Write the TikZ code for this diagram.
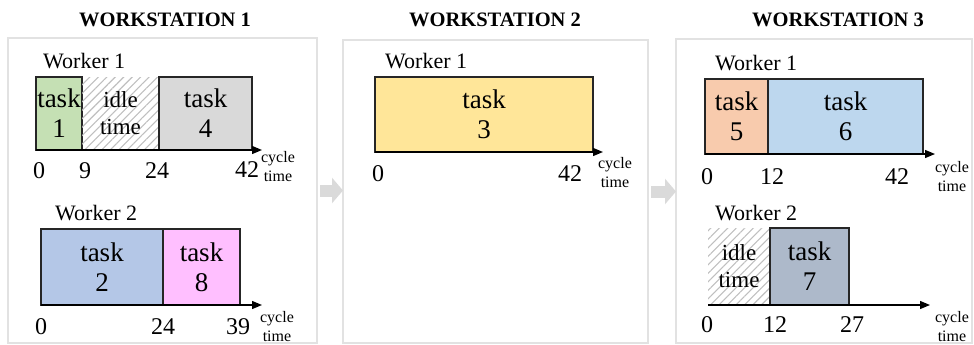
\documentclass[tikz,border=0pt]{standalone}
\usepackage{fontspec}
\setmainfont{LiberationSerif}[Extension=.ttf, UprightFont=*-Regular, BoldFont=*-Bold, ItalicFont=*-Italic, BoldItalicFont=*-BoldItalic]
\usepackage{xcolor}
\usepackage{tikz}
\usetikzlibrary{arrows.meta,patterns.meta}
\definecolor{tgreen}{RGB}{197,224,180}
\definecolor{tgray}{RGB}{217,217,217}
\definecolor{tblue}{RGB}{180,199,231}
\definecolor{tpink}{RGB}{255,191,255}
\definecolor{tyellow}{RGB}{255,230,153}
\definecolor{torange}{RGB}{248,203,173}
\definecolor{tsky}{RGB}{189,215,238}
\definecolor{tslate}{RGB}{173,185,202}
\definecolor{panelgray}{RGB}{226,226,226}
\definecolor{flowgray}{RGB}{218,218,218}

\begin{document}
\begin{tikzpicture}[x=1pt, y=-1pt,
    panel/.style={draw=panelgray, line width=1.5pt, anchor=north west, inner sep=0pt, outer sep=0pt},
    title/.style={font=\fontsize{20.5}{24}\selectfont\bfseries},
    worker/.style={anchor=west, inner sep=0pt, font=\fontsize{22}{26}\selectfont},
    bar/.style={draw=black!85, line width=1.2pt, anchor=south west, inner sep=0pt, outer sep=0pt, align=center, font=\fontsize{27}{30}\selectfont},
    idle/.style={pattern={Lines[angle=45,distance=6pt,line width=1.1pt]}, pattern color=gray!50, anchor=south west, inner sep=0pt, outer sep=0pt, align=center, font=\fontsize{23}{27}\selectfont},
    tick/.style={inner sep=0pt, font=\fontsize{24}{28}\selectfont},
    cyc/.style={inner sep=0pt, align=center, font=\fontsize{16}{19}\selectfont},
    axis/.style={line width=1.3pt, -{Triangle[length=10pt,width=8pt]}},
    flow/.style={draw=flowgray, line width=12pt, -{Triangle[length=11pt,width=25pt]}},
]
    \useasboundingbox (0,0) rectangle (974,345);

    \node[panel, minimum width=309pt, minimum height=305pt] (ws1) at (8,38) {};
    \node[panel, minimum width=305pt, minimum height=303pt] (ws2) at (343,40) {};
    \node[panel, minimum width=296pt, minimum height=304pt] (ws3) at (676,39) {};

    \node[title] (ttl1) at (165,20) {WORKSTATION 1};
    \node[title] (ttl2) at (495,20) {WORKSTATION 2};
    \node[title] (ttl3) at (838,20) {WORKSTATION 3};

    \draw[flow] ([xshift=3pt]ws1.east) -- (ws1.east -| ws2.west);
    \draw[flow] ([xshift=3pt]ws2.east) -- (ws2.east -| ws3.west);

    % workstation 1, worker 1
    \node[worker] (w11) at (43,61) {Worker 1};
    \node[bar, fill=tgreen, minimum width=46pt, minimum height=73pt] (task1) at (36,150) {task\\1};
    \node[idle, minimum width=77pt, minimum height=73pt] (idle1) at (task1.south east) {idle\\time};
    \node[bar, fill=tgray, minimum width=93pt, minimum height=73pt] (task4) at (idle1.south east) {task\\4};
    \coordinate (ax11) at (262,150);
    \draw[axis] (task1.south west) -- (ax11);
    \node[tick] (n110) at (39,171) {0};
    \node[tick] (n119) at (85,171) {9};
    \node[tick] (n1124) at (157,171) {24};
    \node[tick] (n1142) at (247,170) {42};
    \node[cyc] (c11) at (278,167) {cycle\\time};

    % workstation 1, worker 2
    \node[worker] (w12) at (55,213) {Worker 2};
    \node[bar, fill=tblue, minimum width=122pt, minimum height=76pt] (task2) at (41,305) {task\\2};
    \node[bar, fill=tpink, minimum width=77pt, minimum height=76pt] (task8) at (task2.south east) {task\\8};
    \coordinate (ax12) at (262,305);
    \draw[axis] (task2.south west) -- (ax12);
    \node[tick] (n120) at (41,327) {0};
    \node[tick] (n1224) at (163,327) {24};
    \node[tick] (n1239) at (238,327) {39};
    \node[cyc] (c12) at (277,327) {cycle\\time};

    % workstation 2, worker 1
    \node[worker] (w21) at (385,61) {Worker 1};
    \node[bar, fill=tyellow, minimum width=218pt, minimum height=75pt] (task3) at (375,152) {task\\3};
    \coordinate (ax21) at (603,152);
    \draw[axis] (task3.south west) -- (ax21);
    \node[tick] (n210) at (378,174) {0};
    \node[tick] (n2142) at (570,174) {42};
    \node[cyc] (c21) at (615,173) {cycle\\time};

    % workstation 3, worker 1
    \node[worker] (w31) at (715,63) {Worker 1};
    \node[bar, fill=torange, minimum width=63pt, minimum height=75pt] (task5) at (705,154) {task\\5};
    \node[bar, fill=tsky, minimum width=155pt, minimum height=75pt] (task6) at (task5.south east) {task\\6};
    \coordinate (ax31) at (935,154);
    \draw[axis] (task5.south west) -- (ax31);
    \node[tick] (n310) at (707,177) {0};
    \node[tick] (n3112) at (772,177) {12};
    \node[tick] (n3142) at (897,177) {42};
    \node[cyc] (c31) at (952,177) {cycle\\time};

    % workstation 3, worker 2
    \node[worker] (w32) at (715,213) {Worker 2};
    \node[idle, minimum width=62pt, minimum height=77pt] (idle2) at (708,305) {idle\\time};
    \node[bar, fill=tslate, minimum width=79pt, minimum height=77pt] (task7) at (idle2.south east) {task\\7};
    \coordinate (ax32) at (930,305);
    \draw[axis] (idle2.south west) -- (ax32);
    \node[tick] (n320) at (707,325) {0};
    \node[tick] (n3212) at (775,325) {12};
    \node[tick] (n3227) at (852,325) {27};
    \node[cyc] (c32) at (952,327) {cycle\\time};
\end{tikzpicture}
\end{document}
